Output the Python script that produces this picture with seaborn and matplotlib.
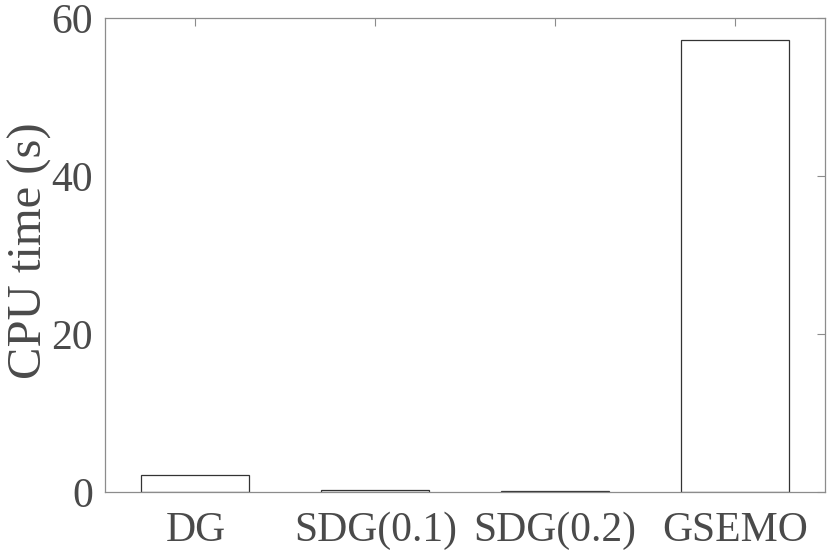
import matplotlib
matplotlib.use("Agg")
import matplotlib.pyplot as plt
import seaborn as sns
import pandas as pd

methods = ["DG", "SDG(0.1)", "SDG(0.2)", "GSEMO"]
cpu_time = [2.15, 0.25, 0.2, 57.3]
yticks = [0, 20, 40, 60]

sns.set_style("white")
plt.rcParams["font.family"] = ["Liberation Serif", "DejaVu Serif"]

TEXT = "#4a4a4a"
AXIS = "#8c8c8c"

df = pd.DataFrame({"Method": methods, "CPU time": cpu_time})

fig, ax = plt.subplots(figsize=(8.3, 5.53), dpi=100)
sns.barplot(data=df, x="Method", y="CPU time", color="white", edgecolor="#333333",
            linewidth=0.9, width=0.6, ax=ax, saturation=1)

ax.set_xlim(-0.5, 3.5)
ax.set_ylim(0, 60)
ax.set_yticks(yticks)
ax.set_xlabel("")
ax.set_ylabel("CPU time (s)", fontsize=35, color=TEXT)
ax.yaxis.set_label_coords(-0.074, 0.51)
ax.tick_params(axis="both", direction="in", labelsize=30, colors=AXIS, labelcolor=TEXT,
               length=6, width=0.8, top=True, right=True)
ax.tick_params(axis="x", pad=14)
ax.tick_params(axis="y", pad=9)
for s in ax.spines.values():
    s.set_visible(True)
    s.set_color(AXIS)
    s.set_linewidth(0.9)

fig.subplots_adjust(left=0.127, right=0.994, top=0.967, bottom=0.11)
plt.savefig("out.png", dpi=100)
plt.close()
